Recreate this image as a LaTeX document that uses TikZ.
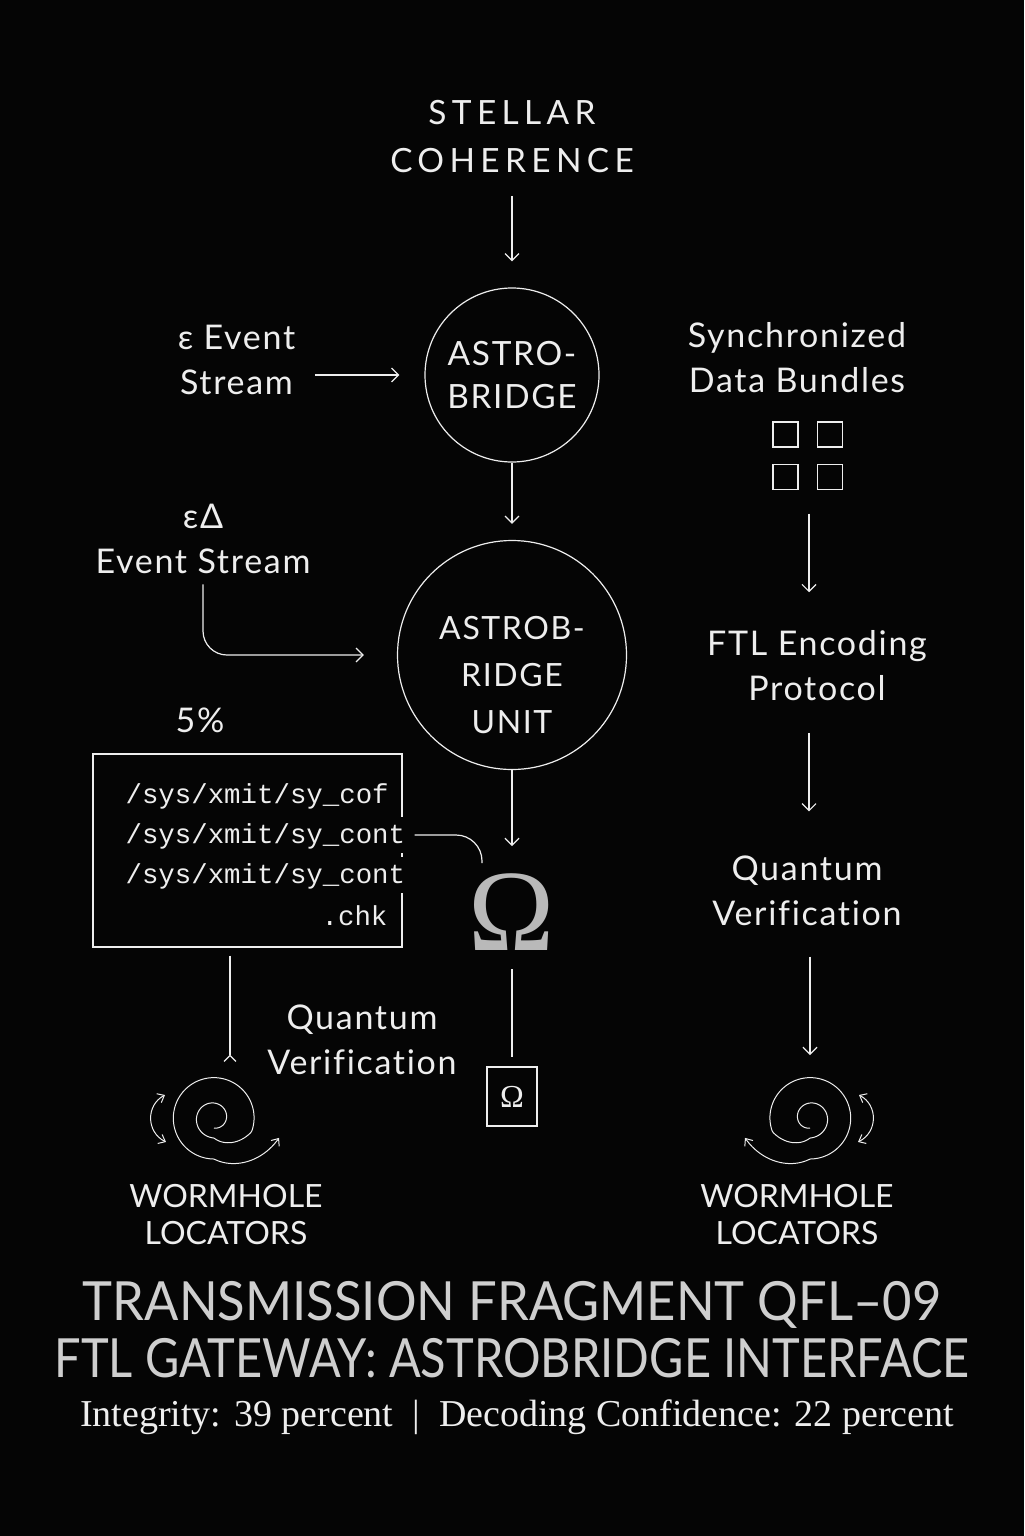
\documentclass[tikz,border=0pt]{standalone}
\usepackage{graphicx}
\usepackage{fontspec}
\setmainfont{Lato}
\newfontfamily\monofont{Liberation Mono}
\newfontfamily\seriffont{Liberation Serif}
\newfontfamily\spacedfont[LetterSpace=16]{Lato}
\newfontfamily\hubfont[LetterSpace=5]{Lato}
\newfontfamily\labelfont[LetterSpace=5, Ligatures=CommonOff]{Lato}
\usetikzlibrary{positioning, arrows.meta}
\definecolor{fgwhite}{HTML}{EEEEEE}
\definecolor{omegagray}{HTML}{B9B9B9}
\definecolor{titlegray}{HTML}{CFCFCF}
\definecolor{bgblack}{HTML}{050505}
\tikzset{>={Straight Barb[length=3.5pt,width=7pt]},
  declare function={spr(\t) = (\t<630) ? (10+(\t-270)*0.02778) :
    ((\t<700) ? (20+(\t-630)*0.2857) : ((\t<990) ? (40+(\t-700)*0.00345) : (41+(\t-990)*0.36986)));}}

% spiral icon: #1 = centre x, #2 = 1 or -1 (mirror)
\newcommand{\wormspiral}[2]{%
  \draw[->, >={Straight Barb[length=3pt,width=5pt]}, line width=0.5pt, variable=\t, domain=270:1063, samples=260, smooth]
    plot ({#1+(#2)*spr(\t)*cos(\t)}, {1118-spr(\t)*sin(\t)});
  \draw[<->, >={Straight Barb[length=3pt,width=5pt]}, line width=0.5pt]
    ({#1-(#2)*49},1095) .. controls ({#1-(#2)*68},1105) and ({#1-(#2)*68},1132) .. ({#1-(#2)*48},1142);}

\begin{document}
\begin{tikzpicture}[x=0.5pt, y=-0.5pt, color=fgwhite, line width=0.6pt,
  label_text/.style={align=center, inner sep=0pt, font=\labelfont\fontsize{17}{22.5}\selectfont},
  hub_circle/.style={circle, draw, inner sep=0pt, align=center},
  mono_line/.style={inner sep=0pt, anchor=base west, text height=13pt, text depth=5pt, font=\monofont\fontsize{13.7}{20}\selectfont},
  bundle_cell/.style={draw, minimum size=12.5pt, inner sep=0pt},
  flow/.style={->}]

\fill[bgblack] (0,0) rectangle (1024,1536);
\useasboundingbox (0,0) rectangle (1024,1536);

% centre column
\node[label_text, font=\spacedfont\fontsize{16.7}{24}\selectfont] (coherence) at (512,137) {STELLAR\\COHERENCE};
\node[hub_circle, minimum size=87pt, font=\hubfont\fontsize{16.7}{21.5}\selectfont] (bridge) at (512,375) {ASTRO-\\BRIDGE};
\node[hub_circle, minimum size=114.5pt] (unit) at (512,655) {};
\node[label_text, font=\hubfont\fontsize{16}{23.5}\selectfont] (unitlabel) at (512,675) {ASTROB-\\RIDGE\\UNIT};
\node[text=omegagray, inner sep=0pt, font=\seriffont\fontsize{58}{58}\selectfont] (omega) at (512,912) {Ω};
\node[draw, minimum width=25pt, minimum height=29.5pt, inner sep=0pt, font=\seriffont\fontsize{16}{16}\selectfont] (omegabox) at (512,1096.5) {Ω};

\draw[flow, shorten <=11pt, shorten >=13pt] (coherence) -- (bridge);
\draw[flow, shorten >=8pt] (bridge) -- (unit);
\draw[flow, shorten >=13.5pt] (unit) -- (omega);
\draw[shorten <=9pt, shorten >=4.5pt] (omega) -- (omegabox);

% left column
\node[label_text] (stream) at (236.5,360) {ε Event\\Stream};
\draw[flow, shorten <=9.5pt, shorten >=12.5pt] (stream.east |- bridge.west) -- (bridge.west);

\node[label_text] (deltastream) at (203,539) {εΔ\\Event Stream};
\draw[flow, rounded corners=12pt, shorten <=5pt, shorten >=16.5pt] (deltastream.south) |- (unit.west);

\node[label_text] (share) at (200,720) {5\%};

\node[draw, minimum width=154.5pt, minimum height=96.5pt, inner sep=0pt] (paths) at (247.5,850.5) {};
\node[mono_line] (path1) at (125,803) {/sys/xmit/sy\_cof};
\node[mono_line, fill=bgblack] (path2) at (125,843) {/sys/xmit/sy\_cont};
\node[mono_line, fill=bgblack] (path3) at (125,883) {/sys/xmit/sy\_cont};
\node[mono_line, anchor=base east] (path4) at (388,925) {.chk};

\coordinate (omegatop) at (482,863);
\draw[rounded corners=13pt, shorten <=4.5pt] (path2.east) -| (omegatop);

\coordinate (leftdrop) at (230,1062);
\draw[-{Straight Barb[reversed,length=3pt,width=6pt]}, shorten <=4pt] (paths.south -| leftdrop) -- (leftdrop);

\node[label_text] (verify) at (362,1040) {Quantum\\Verification};

\wormspiral{214}{1}
\node[label_text, font=\fontsize{16}{18.5}\selectfont] (locleft) at (226,1215) {WORMHOLE\\LOCATORS};

% right column
\node[label_text] (bundles) at (797,358) {Synchronized\\Data Bundles};
\node[minimum width=35pt, minimum height=34pt, inner sep=0pt] (cells) at (809,456) {};
\foreach \cx/\cy in {785.5/434.5, 830/434.5, 785.5/477, 830/477}
  \node[bundle_cell] at (\cx,\cy) {};
\node[label_text] (ftl) at (817,666) {FTL Encoding\\Protocol};
\node[label_text] (verifyright) at (807,891) {Quantum\\Verification};
\coordinate (rightdrop) at (810,1055);

\draw[flow, shorten <=11.5pt, shorten >=19pt] (cells.south) -- (cells.south |- ftl.north);
\draw[flow, shorten <=15.5pt, shorten >=22pt] (cells.south |- ftl.south) -- (cells.south |- verifyright.north);
\draw[flow, shorten <=15pt] (rightdrop |- verifyright.south) -- (rightdrop);

\wormspiral{810}{-1}
\node[label_text, font=\fontsize{16}{18.5}\selectfont] (locright) at (797,1215) {WORMHOLE\\LOCATORS};

% title block
\node[text=titlegray, inner sep=0pt, align=center, font=\fontsize{27}{28.5}\selectfont] (title) at (512,1330)
  {\scalebox{0.94}[1]{TRANSMISSION FRAGMENT QFL–09}\\\scalebox{0.87}[1]{FTL GATEWAY: ASTROBRIDGE INTERFACE}};
\node[inner sep=0pt, font=\seriffont\fontsize{19}{19}\selectfont] (status) at (517,1417) {Integrity: 39 percent\enspace|\enspace Decoding Confidence: 22 percent};
\end{tikzpicture}
\end{document}
